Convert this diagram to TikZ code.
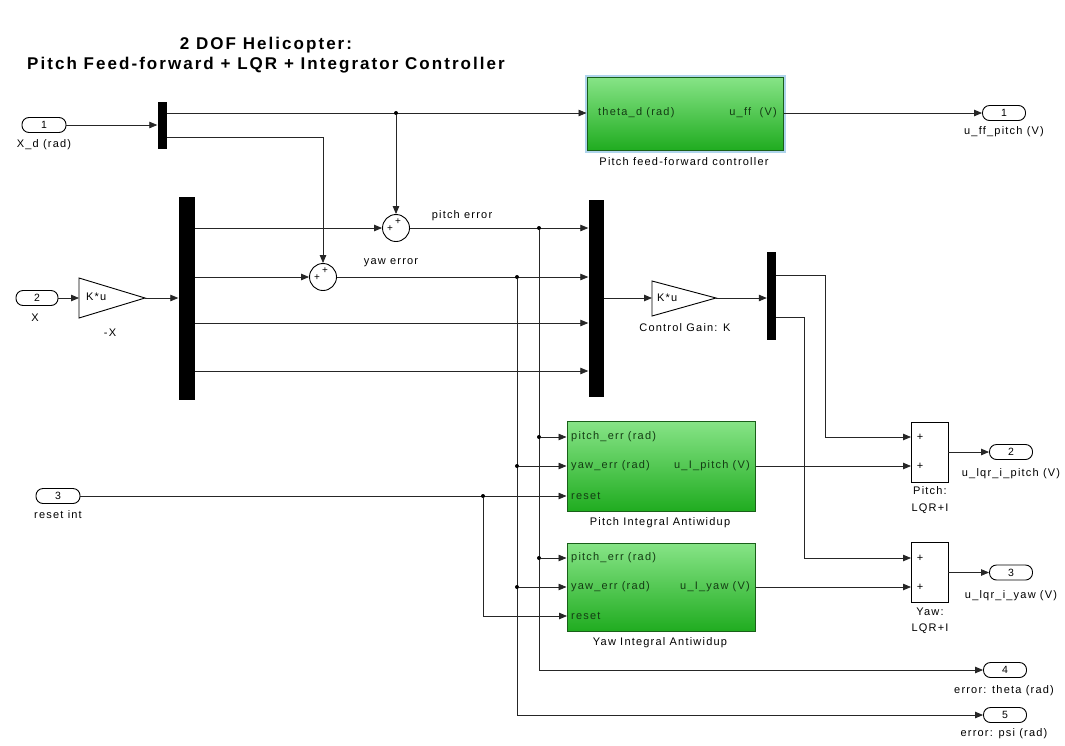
\documentclass[tikz,border=0pt]{standalone}
\usepackage{fontspec}
\setmainfont{Liberation Sans}[LetterSpace=11]
\newfontfamily\titlefont{Liberation Sans}[LetterSpace=12]
\usetikzlibrary{arrows.meta,shapes.geometric}
\definecolor{gtop}{RGB}{135,228,135}
\definecolor{gbot}{RGB}{32,172,32}
\definecolor{gedge}{RGB}{25,95,25}
\definecolor{gtext}{RGB}{20,60,20}
\definecolor{halo}{RGB}{175,212,236}
\begin{document}
\begin{tikzpicture}[x=1pt,y=-1pt,
  line/.style={line width=0.8pt, draw=black!85},
  arr/.style={line, -{Triangle[length=8pt,width=6.5pt]}},
  port/.style={draw, line width=0.9pt, rounded corners=7pt, minimum width=44pt, minimum height=15pt, inner sep=0pt, font=\fontsize{10.5}{10.5}\selectfont},
  muxbar/.style={fill=black, draw=none, inner sep=0pt},
  lbl/.style={font=\fontsize{11}{12}\selectfont, inner sep=0pt},
  glbl/.style={font=\fontsize{11}{12}\selectfont, inner sep=0pt, text=gtext},
  gblock/.style={draw=gedge, line width=1pt, top color=gtop, bottom color=gbot, inner sep=0pt},
  sumc/.style={circle, draw, line width=0.9pt, minimum size=27pt, inner sep=0pt},
  sumr/.style={draw, line width=0.9pt, minimum width=37pt, minimum height=60pt, inner sep=0pt},
  plus/.style={font=\fontsize{11}{11}\selectfont, inner sep=0pt},
  dot/.style={circle, fill=black, inner sep=0pt, minimum size=4pt},
  tri/.style={draw, line width=0.9pt},
  ttl/.style={font=\titlefont\bfseries\fontsize{17}{17}\selectfont, inner sep=0pt}
]
\useasboundingbox (0,0) rectangle (1065,745);

% title
\node[ttl] (title1) at (266,45) {2 DOF Helicopter:};
\node[ttl] (title2) at (266,65) {Pitch Feed-forward + LQR + Integrator Controller};

% inports
\node[port] (in1) at (44,125) {1};
\node[lbl] (in1l) at (44,145) {X\_d (rad)};
\node[port, minimum width=42pt] (in2) at (37,298) {2};
\node[lbl] (in2l) at (35,318) {X};
\node[port] (in3) at (58,496) {3};
\node[lbl] (in3l) at (58,515) {reset int};

% muxes
\node[muxbar, minimum width=9pt, minimum height=47pt] (mux1) at (162,125.5) {};
\node[muxbar, minimum width=16pt, minimum height=203pt] (mux2) at (186.5,298.5) {};
\node[muxbar, minimum width=15pt, minimum height=197pt] (mux3) at (596,298.5) {};
\node[muxbar, minimum width=9pt, minimum height=88pt] (mux4) at (771.5,296) {};

% gain -X
\draw[tri] (79,278) -- (145,298) -- (79,318) -- cycle;
\coordinate (g1in) at (79,298);
\coordinate (g1out) at (145,298);
\node[lbl, anchor=west] (g1) at (86,297) {K*u};
\node[lbl] (g1l) at (110,333) {-X};

% gain K
\draw[tri] (652,281) -- (716,298) -- (652,316) -- cycle;
\coordinate (gKin) at (652,298);
\coordinate (gKout) at (716,298);
\node[lbl, anchor=west] (gK) at (657,298) {K*u};
\node[lbl] (gKl) at (685,328) {Control Gain: K};

% round sums
\node[sumc] (sp) at (396,228) {};
\node[plus, font=\fontsize{10}{10}\selectfont] at (398,222) {+};
\node[plus, font=\fontsize{10}{10}\selectfont] at (390,229) {+};
\node[sumc] (sy) at (323,277) {};
\node[plus, font=\fontsize{10}{10}\selectfont] at (325,271) {+};
\node[plus, font=\fontsize{10}{10}\selectfont] at (317,278) {+};

% rect sums
\node[sumr] (pitchsum) at (929.5,452) {};
\node[plus] at (920,437) {+};
\node[plus] at (920,466) {+};
\node[lbl] (psl1) at (930,491) {Pitch:};
\node[lbl] (psl2) at (930,509) {LQR+I};
\node[sumr] (yawsum) at (929.5,572.5) {};
\node[plus] at (920,558) {+};
\node[plus] at (920,587) {+};
\node[lbl] (ysl1) at (930,612) {Yaw:};
\node[lbl] (ysl2) at (930,629) {LQR+I};
\coordinate (ps1) at (911,437);
\coordinate (ps2) at (911,466);
\coordinate (ys1) at (911,558);
\coordinate (ys2) at (911,587);

% green blocks
\node[gblock, minimum width=196pt, minimum height=73pt, preaction={draw=halo, line width=5pt}] (ff) at (685,113.5) {};
\node[glbl, anchor=west] at (598,113) {theta\_d (rad)};
\node[glbl, anchor=east] at (777,113) {u\_ff\ \ (V)};
\node[lbl] (ffl) at (684,162) {Pitch feed-forward controller};

\node[gblock, minimum width=188pt, minimum height=90pt] (pia) at (661,466) {};
\node[glbl, anchor=west] at (571,437) {pitch\_err (rad)};
\node[glbl, anchor=west] at (571,466) {yaw\_err (rad)};
\node[glbl, anchor=west] at (571,496) {reset};
\node[glbl, anchor=east] at (750,466) {u\_I\_pitch (V)};
\node[lbl] (pial) at (660,523) {Pitch Integral Antiwidup};

\node[gblock, minimum width=188pt, minimum height=88pt] (yia) at (661,587) {};
\node[glbl, anchor=west] at (571,558) {pitch\_err (rad)};
\node[glbl, anchor=west] at (571,587) {yaw\_err (rad)};
\node[glbl, anchor=west] at (571,616) {reset};
\node[glbl, anchor=east] at (750,587) {u\_I\_yaw (V)};
\node[lbl] (yial) at (660,643) {Yaw Integral Antiwidup};

% outports
\node[port, minimum width=43pt] (out1) at (1004,113) {1};
\node[lbl] (out1l) at (1004,132) {u\_ff\_pitch (V)};
\node[port, minimum width=43pt] (out2) at (1011,452) {2};
\node[lbl] (out2l) at (1011,474) {u\_lqr\_i\_pitch (V)};
\node[port, minimum width=43pt] (out3) at (1011,572.5) {3};
\node[lbl] (out3l) at (1011,596) {u\_lqr\_i\_yaw (V)};
\node[port, minimum width=43pt] (out4) at (1005,670) {4};
\node[lbl] (out4l) at (1004,691) {error: theta (rad)};
\node[port, minimum width=43pt] (out5) at (1005,715) {5};
\node[lbl] (out5l) at (1004,734) {error: psi (rad)};

% signal labels
\node[lbl] (pel) at (462,216) {pitch error};
\node[lbl] (yel) at (391,263) {yaw error};

% connections: X_d
\draw[arr] (in1.east) -- (in1.east -| mux1.west);
\coordinate (m1a) at (166.5,113);
\coordinate (m1b) at (166.5,137);
\draw[arr] (m1a) -- (m1a -| ff.west);
\node[dot] (d1) at (396,113) {};
\draw[arr] (d1) -- (sp.north);
\draw[arr] (m1b) -| (sy.north);
\draw[arr] (ff.east |- out1) -- (out1.west);

% X
\draw[arr] (in2.east) -- (g1in);
\draw[arr] (g1out) -- (g1out -| mux2.west);
\coordinate (m2a) at (194.5,228);
\coordinate (m2b) at (194.5,277);
\coordinate (m2c) at (194.5,323);
\coordinate (m2d) at (194.5,371);
\draw[arr] (m2a) -- (sp.west);
\draw[arr] (m2b) -- (sy.west);
\draw[arr] (m2c) -- (m2c -| mux3.west);
\draw[arr] (m2d) -- (m2d -| mux3.west);
\draw[arr] (sp.east) -- (sp.east -| mux3.west);
\draw[arr] (sy.east) -- (sy.east -| mux3.west);

% gain K and demux
\draw[arr] (mux3.east |- gKin) -- (gKin);
\draw[arr] (gKout) -- (gKout -| mux4.west);
\coordinate (m4a) at (776,275);
\coordinate (m4b) at (776,317);
\draw[arr] (m4a) -- ++(49,0) |- (ps1);
\draw[arr] (m4b) -- ++(28,0) |- (ys1);
\draw[arr] (pia.east |- ps2) -- (ps2);
\draw[arr] (yia.east |- ys2) -- (ys2);
\draw[arr] (pitchsum.east) -- (out2.west);
\draw[arr] (yawsum.east) -- (out3.west);

% error branches
\node[dot] (dp) at (539,228) {};
\node[dot] (dy) at (517,277) {};
\draw[arr] (dp) |- (out4.west);
\draw[arr] (dy) |- (out5.west);
\node[dot] (dp1) at (539,437) {};
\node[dot] (dp2) at (539,558) {};
\node[dot] (dy1) at (517,466) {};
\node[dot] (dy2) at (517,587) {};
\draw[arr] (dp1) -- (dp1 -| pia.west);
\draw[arr] (dp2) -- (dp2 -| yia.west);
\draw[arr] (dy1) -- (dy1 -| pia.west);
\draw[arr] (dy2) -- (dy2 -| yia.west);

% reset
\draw[arr] (in3.east) -- (in3.east -| pia.west);
\node[dot] (dr) at (483,496) {};
\coordinate (yr) at (567,616);
\draw[arr] (dr) |- (yr);
\end{tikzpicture}
\end{document}
